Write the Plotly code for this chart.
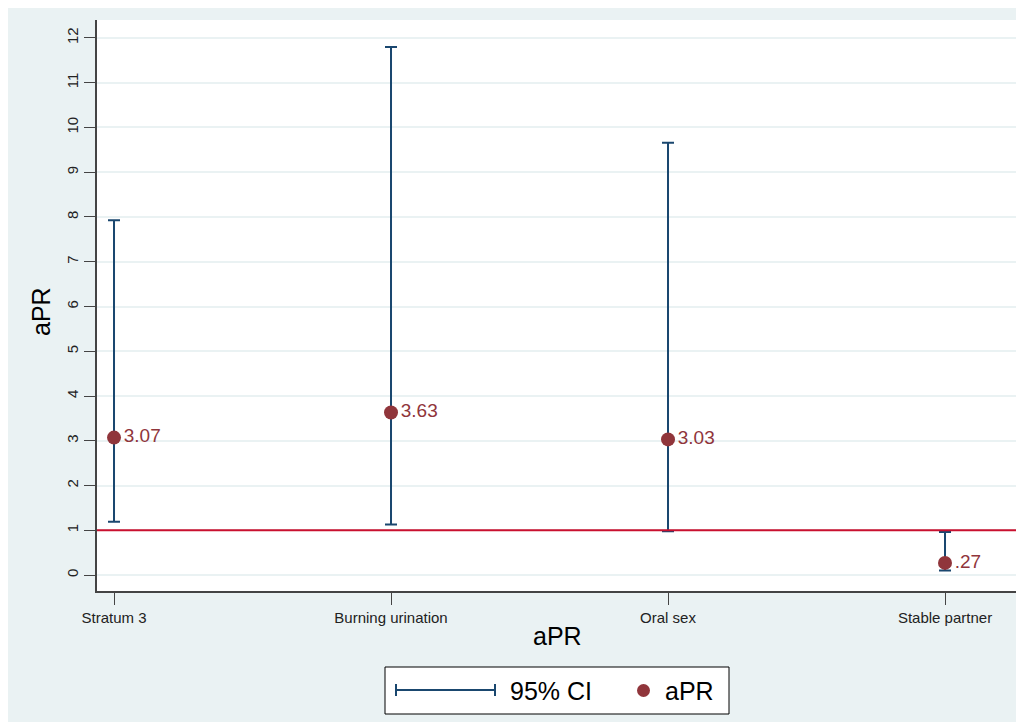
import plotly.graph_objects as go

categories = ["Stratum 3", "Burning urination", "Oral sex", "Stable partner"]
apr = [3.07, 3.63, 3.03, 0.27]
ci_low = [1.19, 1.13, 0.98, 0.10]
ci_high = [7.93, 11.80, 9.66, 0.96]
point_labels = ["3.07", "3.63", "3.03", ".27"]
y_ticks = list(range(0, 13))
ref_value = 1

NAVY = "#1A476F"
MAROON = "#90353B"
RED = "#C9102F"
BG = "#EAF2F3"
FONT = "Liberation Sans, Arial, sans-serif"

W, H = 1024, 722
OFF = 8  # page body margin
# plot area in screen pixels
SL, SR, ST, SB = 97, 1018, 20, 591
L, R, T, B = SL - OFF, SR - OFF, ST - OFF, SB - OFF


def px(x):
    return (x - SL) / (SR - SL)


def py(y):
    return (SB - y) / (SB - ST)


xs = list(range(len(categories)))

fig = go.Figure()
fig.add_trace(go.Scatter(
    x=xs, y=apr,
    mode="markers+text",
    text=point_labels,
    textposition="middle right",
    textfont=dict(family=FONT, size=19, color=MAROON),
    marker=dict(size=14, color=MAROON),
    error_y=dict(
        type="data", symmetric=False,
        array=[h - a for h, a in zip(ci_high, apr)],
        arrayminus=[a - l for a, l in zip(apr, ci_low)],
        color=NAVY, thickness=2, width=6,
    ),
    showlegend=False,
    cliponaxis=False,
))

shapes = [
    dict(type="line", xref="paper", yref="y", x0=0, x1=1, y0=ref_value, y1=ref_value,
         line=dict(color=RED, width=2)),
    # legend box
    dict(type="rect", xref="paper", yref="paper", x0=px(385), x1=px(729), y0=py(667), y1=py(714),
         fillcolor="white", line=dict(color="black", width=1)),
    dict(type="line", xref="paper", yref="paper", x0=px(396), x1=px(495), y0=py(690), y1=py(690),
         line=dict(color=NAVY, width=2)),
    dict(type="line", xref="paper", yref="paper", x0=px(396), x1=px(396), y0=py(684), y1=py(696),
         line=dict(color=NAVY, width=2)),
    dict(type="line", xref="paper", yref="paper", x0=px(495), x1=px(495), y0=py(684), y1=py(696),
         line=dict(color=NAVY, width=2)),
    dict(type="circle", xref="paper", yref="paper", x0=px(637), x1=px(650), y0=py(684), y1=py(697),
         fillcolor=MAROON, line=dict(width=0)),
]

annotations = [
    dict(text="aPR", xref="paper", yref="paper", x=px(557), y=py(636), showarrow=False,
         font=dict(family=FONT, size=25, color="black"), xanchor="center", yanchor="middle"),
    dict(text="aPR", xref="paper", yref="paper", x=px(41), y=py(312), showarrow=False, textangle=-90,
         font=dict(family=FONT, size=25, color="black"), xanchor="center", yanchor="middle"),
    dict(text="95% CI", xref="paper", yref="paper", x=px(508), y=py(691), showarrow=False,
         font=dict(family=FONT, size=25, color="black"), xanchor="left", yanchor="middle"),
    dict(text="aPR", xref="paper", yref="paper", x=px(663), y=py(691), showarrow=False,
         font=dict(family=FONT, size=25, color="black"), xanchor="left", yanchor="middle"),
]

fig.update_layout(
    width=W, height=H,
    margin=dict(l=L, r=W - R, t=T, b=H - B, pad=0),
    paper_bgcolor=BG,
    plot_bgcolor="white",
    font=dict(family=FONT, color="#222"),
    shapes=shapes,
    annotations=annotations,
    showlegend=False,
)
fig.update_xaxes(
    range=[-0.0614, 3.2635],
    tickvals=xs, ticktext=categories,
    showgrid=False, zeroline=False,
    showline=True, linecolor="#444", linewidth=1.5,
    ticks="outside", ticklen=12, tickcolor="#444", tickwidth=1.2,
    tickfont=dict(family=FONT, size=15, color="#222"),
)
fig.update_yaxes(
    range=[-0.3575, 12.402],
    tickvals=y_ticks, ticktext=[str(v) for v in y_ticks],
    tickangle=-90,
    showgrid=True, gridcolor=BG, gridwidth=2,
    zeroline=False,
    showline=True, linecolor="#444", linewidth=1.5,
    ticks="outside", ticklen=11, tickcolor="#444", tickwidth=1.2,
    tickfont=dict(family=FONT, size=15, color="#222"),
)

fig.write_html("out.html")
